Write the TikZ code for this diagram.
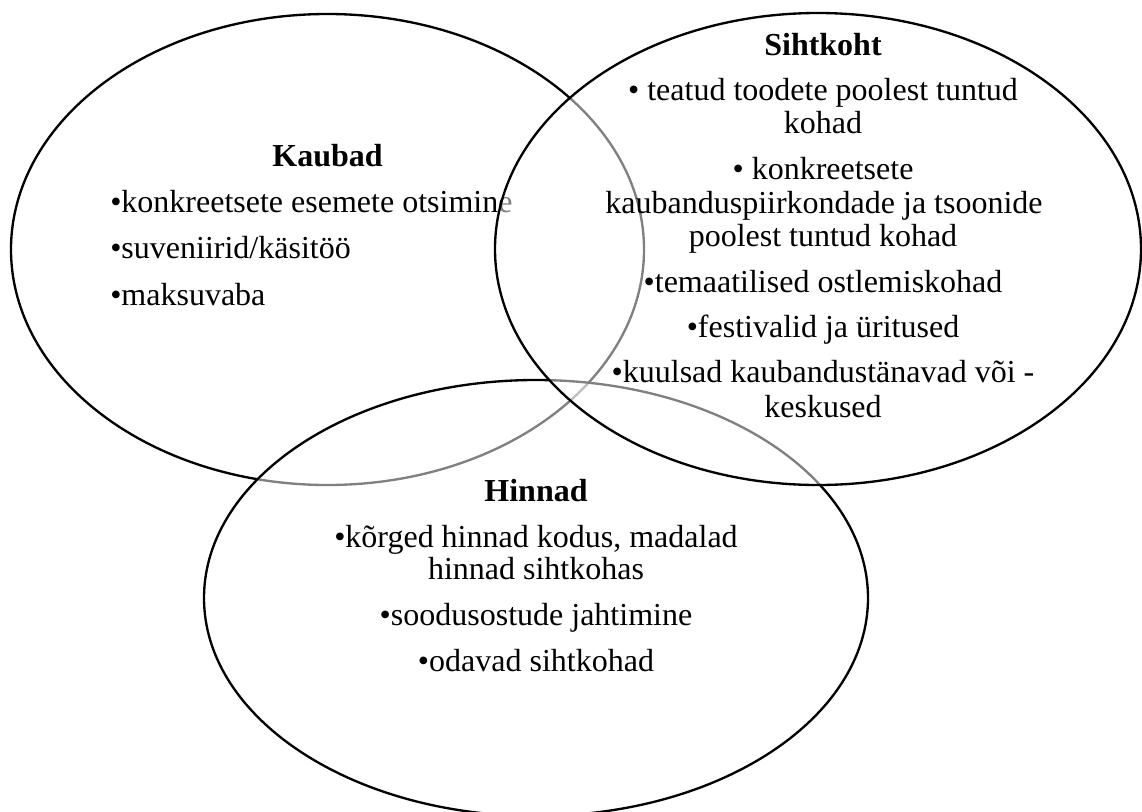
\documentclass[tikz,border=0pt]{standalone}
\usepackage{fontspec}
\setmainfont{Liberation Serif}
\begin{document}
\begin{tikzpicture}[x=0.75pt,y=-0.75pt,
  ring/.style={draw=black,line width=1.75pt,fill=white,fill opacity=0.5},
  txt/.style={inner sep=0pt,anchor=base,font=\fontsize{24pt}{25.5pt}\selectfont},
  txtl/.style={txt,anchor=base west},
  head/.style={txt,font=\fontsize{24pt}{25.5pt}\selectfont\bfseries}]
\useasboundingbox (0,0) rectangle (1142,811);
\fill[white] (0,0) rectangle (1142,811);
% Kaubad
\draw[ring] (327.5,249.5) ellipse [x radius=316.5, y radius=235.5];
\node[head] (kh) at (327.5,166) {Kaubad};
\node[txtl] (k1) at (110,212) {•konkreetsete esemete otsimine};
\node[txtl] (k2) at (110,258) {•suveniirid/käsitöö};
\node[txtl] (k3) at (110,305) {•maksuvaba};
% Hinnad
\draw[ring] (536,598) ellipse [x radius=332, y radius=218];
\node[head] (hh) at (536,501) {Hinnad};
\node[txt] (h1) at (536,547) {•kõrged hinnad kodus, madalad};
\node[txt] (h2) at (536,579) {hinnad sihtkohas};
\node[txt] (h3) at (536,625) {•soodusostude jahtimine};
\node[txt] (h4) at (536,671) {•odavad sihtkohad};
% Sihtkoht
\draw[ring] (818,249) ellipse [x radius=323, y radius=236];
\node[head] (sh) at (823,55) {Sihtkoht};
\node[txt] (s1) at (823,100) {• teatud toodete poolest tuntud};
\node[txt] (s2) at (823,133) {kohad};
\node[txt] (s3) at (823,179) {• konkreetsete};
\node[txt] (s4) at (824,213) {kaubanduspiirkondade ja tsoonide};
\node[txt] (s5) at (823,246) {poolest tuntud kohad};
\node[txt] (s6) at (823,292) {•temaatilised ostlemiskohad};
\node[txt] (s7) at (823,337) {•festivalid ja üritused};
\node[txt] (s8) at (823,382) {•kuulsad kaubandustänavad või -};
\node[txt] (s9) at (823,417) {keskused};
\end{tikzpicture}
\end{document}
